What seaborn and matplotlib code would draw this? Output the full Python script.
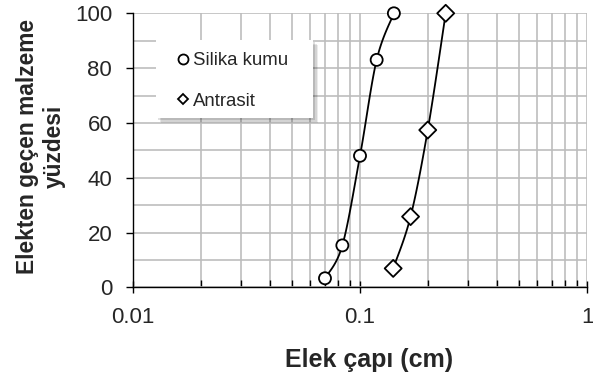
import numpy as np
import pandas as pd
import matplotlib
matplotlib.use("Agg")
import matplotlib.pyplot as plt
from matplotlib.lines import Line2D
from matplotlib.patches import Rectangle
from matplotlib.ticker import LogLocator, FixedLocator, NullFormatter
import seaborn as sns

# ---- data ----
silika_size = [0.0701, 0.0836, 0.100, 0.1184, 0.141]
silika_pct = [3.3, 15.3, 48.0, 83.0, 100.0]
antrasit_size = [0.140, 0.167, 0.1988, 0.2385]
antrasit_pct = [6.9, 25.8, 57.4, 100.0]
series_names = ["Silika kumu", "Antrasit"]
y_ticks = [0, 20, 40, 60, 80, 100]
x_ticks = [0.01, 0.1, 1]
x_tick_labels = ["0.01", "0.1", "1"]

sns.set_theme(style="white")
plt.rcParams["font.family"] = ["Liberation Sans", "DejaVu Sans"]

df = pd.concat([
    pd.DataFrame({"size": silika_size, "pct": silika_pct, "seri": series_names[0]}),
    pd.DataFrame({"size": antrasit_size, "pct": antrasit_pct, "seri": series_names[1]}),
], ignore_index=True)

fig = plt.figure(figsize=(5.93, 3.80), dpi=100)
ax = fig.add_axes([0.2243, 0.2439, 0.7656, 0.7211])
ax.set_xscale("log")
ax.set_xlim(0.01, 1)
ax.set_ylim(0, 100)


def smooth(xs, ys, n=30):
    # Excel-like smoothed line (cubic Bezier, Catmull-Rom control points) in display-like space
    u = np.log10(np.asarray(xs)) * 227.0
    v = np.asarray(ys) * 2.74
    P = np.column_stack([u, v])
    out = [P[0]]
    for i in range(len(P) - 1):
        p0 = P[i - 1] if i > 0 else P[i]
        p1, p2 = P[i], P[i + 1]
        p3 = P[i + 2] if i + 2 < len(P) else P[i + 1]
        c1 = p1 + (p2 - p0) / 6.0
        c2 = p2 - (p3 - p1) / 6.0
        t = np.linspace(0, 1, n)[1:, None]
        seg = ((1 - t) ** 3) * p1 + 3 * ((1 - t) ** 2) * t * c1 + 3 * (1 - t) * t ** 2 * c2 + t ** 3 * p2
        out.extend(seg)
    out = np.array(out)
    return 10 ** (out[:, 0] / 227.0), out[:, 1] / 2.74


for xs, ys in [(silika_size, silika_pct), (antrasit_size, antrasit_pct)]:
    sx, sy = smooth(xs, ys)
    ax.plot(sx, sy, color="black", lw=1.3, zorder=3, solid_capstyle="round", clip_on=False)

sns.scatterplot(data=df, x="size", y="pct", style="seri", markers={"Silika kumu": "o", "Antrasit": "D"},
                hue="seri", palette={"Silika kumu": "white", "Antrasit": "white"},
                edgecolor="black", linewidth=1.3, s=75, ax=ax, legend=False, zorder=4)
for coll in ax.collections:
    coll.set_edgecolor("black")
    coll.set_clip_on(False)

# grid
ax.yaxis.set_major_locator(FixedLocator(y_ticks))
ax.yaxis.set_minor_locator(FixedLocator(list(range(0, 101, 10))))
ax.xaxis.set_major_locator(FixedLocator(x_ticks))
ax.xaxis.set_minor_locator(LogLocator(base=10, subs=np.arange(2, 10)))
ax.xaxis.set_minor_formatter(NullFormatter())
ax.set_xticklabels(x_tick_labels)
ax.grid(which="both", color="#bdbdbd", lw=1.2, zorder=0)
ax.set_axisbelow(True)

for s in ["top", "right"]:
    ax.spines[s].set_visible(False)
for s in ["left", "bottom"]:
    ax.spines[s].set_color("black")
    ax.spines[s].set_linewidth(1.0)

ax.tick_params(axis="y", which="major", direction="out", length=5, width=1, color="black",
               labelsize=16, pad=10, left=True)
ax.tick_params(axis="y", which="minor", left=False)
ax.tick_params(axis="x", which="major", direction="inout", length=9, width=1, color="black",
               labelsize=16, pad=10, bottom=True)
ax.tick_params(axis="x", which="minor", direction="in", length=5, width=1, color="black", bottom=True)

ax.set_xlabel("Elek çapı (cm)", fontsize=18, fontweight="bold")
ax.xaxis.set_label_coords(0.52, -0.223)
ax.set_ylabel("Elekten geçen malzeme\nyüzdesi", fontsize=16.4, fontweight="bold", linespacing=1.2)
ax.yaxis.set_label_coords(-0.148, 0.515)

# legend box with soft shadow
bx0, by0, bw, bh = 0.0507, 0.618, 0.3458, 0.2846
for k, (dx, dy, a) in enumerate([(0.011, -0.018, 0.08), (0.008, -0.013, 0.10), (0.005, -0.008, 0.12)]):
    ax.add_patch(Rectangle((bx0 + dx, by0 + dy), bw, bh, transform=ax.transAxes,
                           facecolor="black", edgecolor="none", alpha=a, zorder=5))
ax.add_patch(Rectangle((bx0, by0), bw, bh, transform=ax.transAxes,
                       facecolor="white", edgecolor="none", zorder=5.5))

handles = [
    Line2D([], [], marker="o", ls="none", mfc="white", mec="black", mew=1.3, ms=7.2),
    Line2D([], [], marker="D", ls="none", mfc="white", mec="black", mew=1.3, ms=5.4),
]
leg = ax.legend(handles, series_names, loc="upper left", bbox_to_anchor=(0.0985, 0.858),
                borderaxespad=0, frameon=False, fontsize=13.4,
                handlelength=0.6, handletextpad=0.2, labelspacing=1.27, borderpad=0)
leg.set_zorder(6)

fig.savefig("out.png", dpi=100)
